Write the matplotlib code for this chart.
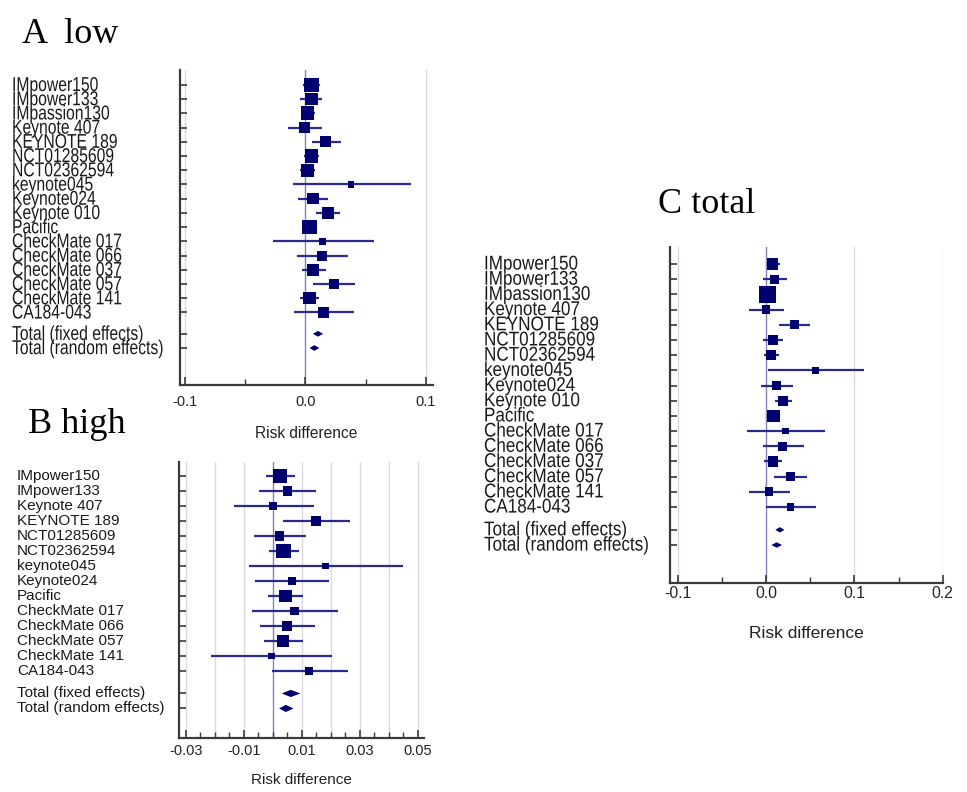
import numpy as np
import matplotlib
matplotlib.use("Agg")
import matplotlib.pyplot as plt
from matplotlib.transforms import blended_transform_factory, Affine2D
from matplotlib.patheffects import AbstractPathEffect

plt.rcParams['axes.unicode_minus'] = False
plt.rcParams['font.family'] = ['Liberation Sans', 'DejaVu Sans']

# ---------------- data ----------------
studies_A = ["IMpower150", "IMpower133", "IMpassion130", "Keynote 407", "KEYNOTE 189",
             "NCT01285609", "NCT02362594", "keynote045", "Keynote024", "Keynote 010",
             "Pacific", "CheckMate 017", "CheckMate 066", "CheckMate 037", "CheckMate 057",
             "CheckMate 141", "CA184-043"]
rd_A = [0.0050, 0.0050, 0.0017, -0.0006, 0.0168, 0.0050, 0.0017, 0.0378, 0.0062, 0.0188,
        0.0034, 0.0140, 0.0140, 0.0064, 0.0238, 0.0034, 0.0148]
lo_A = [-0.0022, -0.0048, -0.0040, -0.0146, 0.0050, -0.0014, -0.0042, -0.0104, -0.0062, 0.0084,
        -0.0014, -0.0272, -0.0067, -0.0028, 0.0062, -0.0042, -0.0092]
hi_A = [0.0120, 0.0140, 0.0078, 0.0134, 0.0294, 0.0112, 0.0078, 0.0874, 0.0190, 0.0286,
        0.0090, 0.0566, 0.0353, 0.0174, 0.0415, 0.0112, 0.0400]
w_A = [8.7, 6.3, 8.1, 5.2, 5.2, 7.4, 7.4, 1.9, 5.2, 6.3, 8.7, 1.9, 4.2, 6.3, 4.2, 6.3, 4.7]
tot_A = [0.0104, 0.0073]
tot_lo_A = [0.0062, 0.0034]
tot_hi_A = [0.0146, 0.0115]

studies_B = ["IMpower150", "IMpower133", "Keynote 407", "KEYNOTE 189", "NCT01285609",
             "NCT02362594", "keynote045", "Keynote024", "Pacific", "CheckMate 017",
             "CheckMate 066", "CheckMate 057", "CheckMate 141", "CA184-043"]
rd_B = [0.0025, 0.0051, 0.0000, 0.0149, 0.0023, 0.0037, 0.0182, 0.0066, 0.0043, 0.0075,
        0.0049, 0.0035, -0.0005, 0.0126]
lo_B = [-0.0023, -0.0046, -0.0134, 0.0034, -0.0064, -0.0013, -0.0081, -0.0061, -0.0015, -0.0071,
        -0.0043, -0.0031, -0.0214, -0.0002]
hi_B = [0.0075, 0.0149, 0.0141, 0.0266, 0.0114, 0.0092, 0.0447, 0.0193, 0.0103, 0.0225,
        0.0145, 0.0104, 0.0205, 0.0258]
w_B = [13.9, 6.5, 3.9, 6.5, 6.5, 13.9, 3.1, 4.6, 11.0, 4.6, 6.5, 11.0, 3.1, 4.6]
tot_B = [0.0062, 0.0045]
tot_lo_B = [0.0031, 0.0022]
tot_hi_B = [0.0095, 0.0071]

studies_C = list(studies_A)
rd_C = [0.0072, 0.0095, 0.0015, -0.0004, 0.0322, 0.0072, 0.0053, 0.0557, 0.0117, 0.0186,
        0.0080, 0.0216, 0.0186, 0.0072, 0.0273, 0.0030, 0.0273]
lo_C = [0.0008, -0.0038, -0.0030, -0.0200, 0.0140, -0.0038, -0.0027, 0.0019, -0.0057, 0.0095,
        0.0015, -0.0220, -0.0038, -0.0027, 0.0087, -0.0193, 0.0000]
hi_C = [0.0152, 0.0235, 0.0070, 0.0200, 0.0490, 0.0190, 0.0144, 0.1110, 0.0300, 0.0295,
        0.0159, 0.0670, 0.0432, 0.0178, 0.0466, 0.0265, 0.0564]
w_C = [7.3, 4.7, 16.5, 4.7, 4.7, 6.3, 6.3, 2.6, 4.7, 6.3, 9.4, 2.6, 4.7, 6.3, 4.7, 4.7, 3.3]
tot_C = [0.0152, 0.0117]
tot_lo_C = [0.0102, 0.0057]
tot_hi_C = [0.0205, 0.0178]

total_labels = ["Total (fixed effects)", "Total (random effects)"]

ticks_A = [-0.1, 0.0, 0.1]
ticklabels_A = ["-0.1", "0.0", "0.1"]
ticks_B = [-0.03, -0.01, 0.01, 0.03, 0.05]
ticklabels_B = ["-0.03", "-0.01", "0.01", "0.03", "0.05"]
ticks_C = [-0.1, 0.0, 0.1, 0.2]
ticklabels_C = ["-0.1", "0.0", "0.1", "0.2"]


# ---------------- helpers ----------------
class VStretch(AbstractPathEffect):
    """Stretch text glyphs vertically about their cap-height centre."""
    def __init__(self, sy, centre=35.8):
        super().__init__()
        self.sy = sy
        self.c = centre

    def draw_path(self, renderer, gc, tpath, affine, rgbFace=None):
        pre = Affine2D().translate(0, -self.c).scale(1.0, self.sy).translate(0, self.c)
        renderer.draw_path(gc, tpath, pre + affine, rgbFace)


W, H = 967, 792
fig = plt.figure(figsize=(W / 100, H / 100), dpi=100)
fig.patch.set_facecolor('white')

NAVY = '#00006e'
LINE = '#2a2a90'
GRID = '#d9d9e3'
ZERO = '#8383b8'


def panel(box, xlim, ylim, studies, rd, lo, hi, w, tot, tlo, thi,
          major, majlabels, minor, grid, label_x, label_fs, stretch, k_side,
          tick_fs, tick_pad, xlab_fs, xlab_off, dia_h):
    l, r, t, b = box
    ax = fig.add_axes([l / W, 1 - b / H, (r - l) / W, (b - t) / H])
    ax.set_xlim(*xlim)
    ax.set_ylim(*ylim)
    n = len(studies)
    ys = np.arange(n, dtype=float)
    yt = np.array([n + 0.5, n + 1.5])

    for g in grid:
        ax.axvline(g, color=GRID, lw=1.0, zorder=0)
    ax.axvline(0.0, color=ZERO, lw=1.0, zorder=1)

    ax.hlines(ys, lo, hi, color=LINE, lw=1.6, zorder=2)
    side_pt = k_side * np.sqrt(np.array(w)) * 0.72
    ax.scatter(rd, ys, marker='s', s=side_pt ** 2, color=NAVY, zorder=3, linewidths=0)
    for yy, e, a, c in zip(yt, tot, tlo, thi):
        ax.fill([a, e, c, e], [yy, yy - dia_h, yy, yy + dia_h], color=NAVY, zorder=3, lw=0)

    for s in ['top', 'right']:
        ax.spines[s].set_visible(False)
    for s in ['left', 'bottom']:
        ax.spines[s].set_linewidth(1.6)
        ax.spines[s].set_color('#3a3a3a')

    ax.set_yticks(np.concatenate([ys, yt]))
    ax.set_yticklabels([])
    ax.tick_params(axis='y', direction='in', length=5, width=1.2, color='#3a3a3a')
    ax.set_xticks(major)
    ax.set_xticklabels(majlabels, fontsize=tick_fs)
    ax.set_xticks(minor, minor=True)
    ax.tick_params(axis='x', which='major', direction='in', length=6, width=1.2,
                   color='#3a3a3a', pad=tick_pad, labelcolor='#222222')
    ax.tick_params(axis='x', which='minor', direction='in', length=4, width=1.0,
                   color='#3a3a3a')

    tr = blended_transform_factory(fig.transFigure, ax.transData)
    for yy, s in zip(np.concatenate([ys, yt]), list(studies) + total_labels):
        txt = ax.text(label_x / W, yy, s, transform=tr, ha='left', va='center',
                      fontsize=label_fs, color='#1a1a1a')
        if stretch != 1.0:
            txt.set_path_effects([VStretch(stretch)])

    ax.set_xlabel("Risk difference", fontsize=xlab_fs, color='#222222')
    ax.xaxis.set_label_coords(0.5, -xlab_off / (b - t))
    ax.xaxis.label.set_va('center')
    return ax


# Panel A (low)
panel((180, 433, 70, 385), (-0.1041, 0.1058), (21.1, -1.05),
      studies_A, rd_A, lo_A, hi_A, w_A, tot_A, tot_lo_A, tot_hi_A,
      ticks_A, ticklabels_A, [-0.05, 0.05], [-0.1, 0.1],
      12, 11.3, 1.28, 4.9, 10.5, 7.0, 11.2, 48, 0.2)

# Panel B (high)
panel((179, 424, 462, 738), (-0.0323, 0.0521), (17.47, -0.93),
      studies_B, rd_B, lo_B, hi_B, w_B, tot_B, tot_lo_B, tot_hi_B,
      ticks_B, ticklabels_B,
      [-0.025, -0.02, -0.015, -0.005, 0.0, 0.005, 0.015, 0.02, 0.025, 0.035, 0.04, 0.045],
      [-0.03, -0.02, -0.01, 0.01, 0.02, 0.03, 0.04, 0.05],
      17, 11, 1.0, 3.8, 10.5, 4.5, 11, 42, 0.24)

# Panel C (total)
panel((670, 943, 247, 583), (-0.1094, 0.2005), (21.0, -1.12),
      studies_C, rd_C, lo_C, hi_C, w_C, tot_C, tot_lo_C, tot_hi_C,
      ticks_C, ticklabels_C, [-0.05, 0.05, 0.15], [-0.1, 0.1, 0.2],
      484, 12.3, 1.17, 4.1, 11.3, 2.5, 12.5, 50, 0.18)

# Panel titles
serif = ['Liberation Serif', 'DejaVu Serif']
fig.text(22 / W, 1 - 43 / H, "A  low", family=serif, fontsize=26, va='baseline', ha='left')
fig.text(28 / W, 1 - 433 / H, "B high", family=serif, fontsize=26, va='baseline', ha='left')
fig.text(658 / W, 1 - 213 / H, "C total", family=serif, fontsize=26, va='baseline', ha='left')

fig.savefig("out.png", dpi=100, facecolor='white')
